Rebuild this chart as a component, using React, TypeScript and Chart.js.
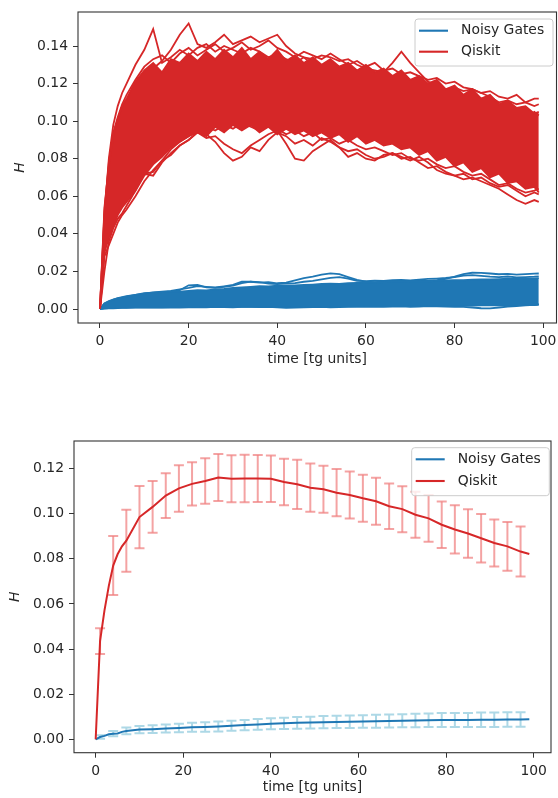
import React, { useEffect, useRef } from "react";
import { Chart, registerables } from "chart.js";

Chart.register(...registerables);

const FONT = "'DejaVu Sans', sans-serif";
const FS = 13.9;
const TXT = "#262626";
const RED = "#d62728";
const BLUE = "#1f77b4";
const RED_ERR = "rgba(240,128,128,0.72)";
const BLUE_ERR = "#add8e6";

Chart.defaults.font.family = FONT;
Chart.defaults.color = TXT;

// ---------- shared labels / ticks ----------
const legendLabels = ["Noisy Gates", "Qiskit"];
const xTickValues = [0, 20, 40, 60, 80, 100];
const yTicksTop = [0, 0.02, 0.04, 0.06, 0.08, 0.1, 0.12, 0.14];
const yTicksBottom = [0, 0.02, 0.04, 0.06, 0.08, 0.1, 0.12];
const xTitle = "time [tg units]";
const yTitle = "H";

// ---------- top chart: individual trajectories ----------
const traceT = [0, 1, 2, 3, 4, 5, 6, 8, 10, 12, 14, 16, 18, 20, 22, 24, 26, 28, 30, 32, 34, 36, 38, 40, 42, 44, 46, 48, 50, 52, 54, 56, 58, 60, 62, 64, 66, 68, 70, 72, 74, 76, 78, 80, 82, 84, 86, 88, 90, 92, 94, 96, 98, 99];

// dense body of the Qiskit runs (upper / lower edge)
const qiskitBodyHi = [0, 0.054, 0.076, 0.092, 0.101, 0.108, 0.112, 0.121, 0.127, 0.131, 0.126, 0.133, 0.131, 0.136, 0.132, 0.137, 0.133, 0.138, 0.134, 0.139, 0.133, 0.137, 0.133, 0.138, 0.132, 0.135, 0.131, 0.134, 0.130, 0.133, 0.129, 0.131, 0.127, 0.130, 0.126, 0.128, 0.124, 0.127, 0.122, 0.124, 0.120, 0.122, 0.117, 0.119, 0.114, 0.117, 0.112, 0.114, 0.109, 0.111, 0.107, 0.108, 0.104, 0.105];
const qiskitBodyLo = [0, 0.030, 0.038, 0.044, 0.050, 0.054, 0.057, 0.063, 0.071, 0.077, 0.081, 0.086, 0.089, 0.092, 0.094, 0.092, 0.097, 0.094, 0.098, 0.095, 0.098, 0.094, 0.097, 0.093, 0.096, 0.093, 0.095, 0.092, 0.094, 0.091, 0.093, 0.089, 0.092, 0.088, 0.090, 0.087, 0.088, 0.085, 0.086, 0.082, 0.084, 0.079, 0.081, 0.076, 0.078, 0.073, 0.075, 0.070, 0.072, 0.067, 0.068, 0.064, 0.065, 0.062];
// outlying Qiskit runs
const qiskitRunA = [0, 0.050, 0.080, 0.098, 0.108, 0.115, 0.120, 0.130, 0.138, 0.149, 0.131, 0.134, 0.138, 0.135, 0.139, 0.141, 0.137, 0.140, 0.138, 0.136, 0.139, 0.137, 0.134, 0.136, 0.133, 0.131, 0.134, 0.130, 0.128, 0.131, 0.127, 0.125, 0.127, 0.124, 0.121, 0.123, 0.120, 0.118, 0.121, 0.117, 0.115, 0.117, 0.113, 0.114, 0.111, 0.109, 0.112, 0.108, 0.106, 0.108, 0.104, 0.102, 0.105, 0.103];
const qiskitRunB = [0, 0.048, 0.072, 0.088, 0.097, 0.104, 0.109, 0.117, 0.124, 0.128, 0.132, 0.138, 0.146, 0.152, 0.141, 0.139, 0.142, 0.146, 0.141, 0.143, 0.145, 0.142, 0.144, 0.146, 0.140, 0.136, 0.134, 0.133, 0.135, 0.134, 0.132, 0.133, 0.130, 0.128, 0.127, 0.126, 0.131, 0.137, 0.131, 0.126, 0.121, 0.119, 0.117, 0.118, 0.116, 0.117, 0.115, 0.113, 0.110, 0.111, 0.109, 0.110, 0.112, 0.112];
const qiskitRunC = [0, 0.028, 0.034, 0.040, 0.046, 0.050, 0.053, 0.060, 0.068, 0.074, 0.079, 0.085, 0.089, 0.092, 0.095, 0.093, 0.089, 0.083, 0.079, 0.081, 0.086, 0.084, 0.090, 0.094, 0.092, 0.088, 0.090, 0.087, 0.091, 0.089, 0.086, 0.084, 0.085, 0.082, 0.080, 0.081, 0.083, 0.080, 0.081, 0.078, 0.075, 0.076, 0.073, 0.071, 0.072, 0.069, 0.070, 0.067, 0.065, 0.066, 0.063, 0.060, 0.062, 0.061];
const qiskitRunD = [0, 0.032, 0.040, 0.047, 0.052, 0.056, 0.060, 0.066, 0.072, 0.071, 0.078, 0.083, 0.087, 0.090, 0.094, 0.091, 0.092, 0.088, 0.085, 0.083, 0.087, 0.090, 0.093, 0.095, 0.088, 0.080, 0.079, 0.084, 0.087, 0.090, 0.086, 0.081, 0.083, 0.080, 0.079, 0.082, 0.083, 0.081, 0.079, 0.081, 0.078, 0.074, 0.072, 0.071, 0.069, 0.070, 0.068, 0.066, 0.064, 0.061, 0.058, 0.056, 0.058, 0.057];
const qiskitRunE = [0, 0.052, 0.078, 0.094, 0.102, 0.109, 0.114, 0.122, 0.129, 0.133, 0.135, 0.131, 0.136, 0.139, 0.135, 0.138, 0.141, 0.137, 0.139, 0.142, 0.138, 0.140, 0.143, 0.139, 0.137, 0.134, 0.137, 0.135, 0.133, 0.136, 0.133, 0.130, 0.132, 0.129, 0.131, 0.127, 0.128, 0.125, 0.126, 0.124, 0.122, 0.123, 0.120, 0.121, 0.118, 0.117, 0.115, 0.116, 0.113, 0.112, 0.114, 0.110, 0.108, 0.109];
const qiskitRunF = [0, 0.020, 0.036, 0.043, 0.048, 0.051, 0.055, 0.063, 0.072, 0.073, 0.079, 0.082, 0.087, 0.090, 0.094, 0.097, 0.095, 0.098, 0.096, 0.099, 0.097, 0.095, 0.098, 0.096, 0.093, 0.095, 0.092, 0.094, 0.090, 0.091, 0.088, 0.090, 0.087, 0.085, 0.086, 0.084, 0.082, 0.083, 0.080, 0.079, 0.080, 0.077, 0.075, 0.076, 0.073, 0.071, 0.072, 0.069, 0.066, 0.067, 0.064, 0.062, 0.063, 0.064];

// dense body of the Noisy Gates runs
const noisyBodyHi = [0, 0.0030, 0.0042, 0.0050, 0.0056, 0.0061, 0.0066, 0.0075, 0.0084, 0.0087, 0.0090, 0.0093, 0.0092, 0.0097, 0.0101, 0.0099, 0.0104, 0.0107, 0.0112, 0.0115, 0.0118, 0.0121, 0.0120, 0.0124, 0.0126, 0.0125, 0.0128, 0.0130, 0.0133, 0.0135, 0.0134, 0.0137, 0.0139, 0.0141, 0.0140, 0.0143, 0.0145, 0.0144, 0.0147, 0.0148, 0.0147, 0.0150, 0.0152, 0.0154, 0.0153, 0.0156, 0.0158, 0.0157, 0.0159, 0.0161, 0.0160, 0.0162, 0.0163, 0.0164];
const noisyBodyLo = [0, 0.0003, 0.0005, 0.0006, 0.0007, 0.0008, 0.0008, 0.0009, 0.0009, 0.0010, 0.0009, 0.0010, 0.0011, 0.0010, 0.0011, 0.0012, 0.0011, 0.0012, 0.0011, 0.0012, 0.0013, 0.0012, 0.0013, 0.0012, 0.0013, 0.0014, 0.0013, 0.0014, 0.0013, 0.0014, 0.0015, 0.0014, 0.0015, 0.0016, 0.0015, 0.0016, 0.0015, 0.0016, 0.0017, 0.0016, 0.0017, 0.0018, 0.0017, 0.0018, 0.0019, 0.0018, 0.0019, 0.0020, 0.0019, 0.0020, 0.0021, 0.0022, 0.0021, 0.0022];
const noisyRunA = [0, 0.003, 0.004, 0.005, 0.0058, 0.0063, 0.0068, 0.0075, 0.0082, 0.0088, 0.0092, 0.0096, 0.0105, 0.0112, 0.0122, 0.0118, 0.0115, 0.0121, 0.0128, 0.0146, 0.0145, 0.0140, 0.0143, 0.0137, 0.0140, 0.0152, 0.0165, 0.0172, 0.0183, 0.0190, 0.0186, 0.0170, 0.0155, 0.0146, 0.0143, 0.0146, 0.0148, 0.0146, 0.0149, 0.0151, 0.0150, 0.0153, 0.0160, 0.0172, 0.0186, 0.0193, 0.0192, 0.0189, 0.0185, 0.0187, 0.0183, 0.0186, 0.0188, 0.0189];
const noisyRunB = [0, 0.0025, 0.0038, 0.0045, 0.0052, 0.0058, 0.0063, 0.0070, 0.0078, 0.0083, 0.0087, 0.0092, 0.0100, 0.0126, 0.0128, 0.0115, 0.0112, 0.0118, 0.0125, 0.0138, 0.0146, 0.0143, 0.0135, 0.0132, 0.0136, 0.0138, 0.0145, 0.0150, 0.0158, 0.0166, 0.0170, 0.0162, 0.0150, 0.0148, 0.0151, 0.0150, 0.0153, 0.0155, 0.0152, 0.0156, 0.0160, 0.0162, 0.0165, 0.0170, 0.0178, 0.0180, 0.0176, 0.0172, 0.0170, 0.0173, 0.0168, 0.0170, 0.0172, 0.0174];
const noisyRunC = [0, 0.0002, 0.0003, 0.0004, 0.0005, 0.0006, 0.0006, 0.0007, 0.0008, 0.0007, 0.0008, 0.0009, 0.0008, 0.0009, 0.0010, 0.0009, 0.0011, 0.0010, 0.0009, 0.0011, 0.0012, 0.0010, 0.0011, 0.0009, 0.0006, 0.0007, 0.0009, 0.0010, 0.0011, 0.0009, 0.0010, 0.0012, 0.0011, 0.0013, 0.0012, 0.0011, 0.0013, 0.0014, 0.0012, 0.0013, 0.0015, 0.0014, 0.0013, 0.0012, 0.0011, 0.0008, 0.0004, 0.0003, 0.0008, 0.0013, 0.0016, 0.0019, 0.0022, 0.0026];

// ---------- bottom chart: mean and standard deviation ----------
const meanT = [0, 1, 2, 3, 4, 5, 6, 7, 10, 13, 16, 19, 22, 25, 28, 31, 34, 37, 40, 43, 46, 49, 52, 55, 58, 61, 64, 67, 70, 73, 76, 79, 82, 85, 88, 91, 94, 97, 99];
const qiskitMean = [0, 0.0435, 0.057, 0.068, 0.077, 0.082, 0.0855, 0.088, 0.0985, 0.103, 0.108, 0.1112, 0.1132, 0.1145, 0.116, 0.1155, 0.1156, 0.1156, 0.1155, 0.114, 0.113, 0.1115, 0.1108, 0.1093, 0.1083, 0.1068, 0.1055, 0.1033, 0.102, 0.0995, 0.0979, 0.0951, 0.093, 0.0912, 0.0891, 0.087, 0.0855, 0.0832, 0.0821];
const noisyMean = [0, 0.001, 0.0015, 0.0022, 0.0025, 0.0026, 0.0033, 0.0037, 0.0043, 0.0045, 0.0048, 0.005, 0.0053, 0.0055, 0.0057, 0.006, 0.0063, 0.0066, 0.0069, 0.0071, 0.0073, 0.0074, 0.0076, 0.0077, 0.0078, 0.0079, 0.008, 0.0081, 0.0082, 0.0083, 0.0084, 0.0085, 0.0086, 0.0086, 0.0087, 0.0087, 0.0088, 0.0088, 0.0089];
const errT = [1, 4, 7, 10, 13, 16, 19, 22, 25, 28, 31, 34, 37, 40, 43, 46, 49, 52, 55, 58, 61, 64, 67, 70, 73, 76, 79, 82, 85, 88, 91, 94, 97];
const qiskitStd = [0.0057, 0.0131, 0.0137, 0.0138, 0.0115, 0.0099, 0.0103, 0.0096, 0.0101, 0.0104, 0.0104, 0.0105, 0.0104, 0.0103, 0.0103, 0.0109, 0.0107, 0.0104, 0.0105, 0.0104, 0.0104, 0.0104, 0.0101, 0.0102, 0.0102, 0.0104, 0.0103, 0.0107, 0.0107, 0.0108, 0.0104, 0.0108, 0.0111];
const noisyStd = [0.0008, 0.0012, 0.0015, 0.0016, 0.0017, 0.0018, 0.0019, 0.002, 0.0021, 0.0022, 0.0022, 0.0023, 0.0024, 0.0024, 0.0025, 0.0026, 0.0026, 0.0027, 0.0027, 0.0028, 0.0028, 0.0029, 0.0029, 0.0029, 0.003, 0.003, 0.0031, 0.0031, 0.0031, 0.0032, 0.0032, 0.0032, 0.0032];

// ---------- helpers ----------
const pts = (xs: number[], ys: number[]) => xs.map((x, i) => ({ x, y: ys[i] }));

const errPts = (ts: number[], mt: number[], mean: number[], sd: number[]) => {
  const out: { x: number; y: number | null }[] = [];
  ts.forEach((t, i) => {
    const m = mean[mt.indexOf(t)];
    out.push({ x: t, y: m - sd[i] }, { x: t, y: m + sd[i] }, { x: t, y: null });
  });
  return out;
};

const framePlugin = {
  id: "mplFrame",
  afterDatasetsDraw(chart: any) {
    const { ctx, chartArea: a } = chart;
    ctx.save();
    ctx.strokeStyle = "#333333";
    ctx.lineWidth = 1.1;
    ctx.strokeRect(a.left, a.top, a.right - a.left, a.bottom - a.top);
    ctx.restore();
  },
};

const legendPlugin = {
  id: "mplLegend",
  afterDraw(chart: any, _args: any, o: any) {
    const { ctx } = chart;
    const { left, top, width, height } = o;
    ctx.save();
    const r = 3;
    ctx.beginPath();
    ctx.moveTo(left + r, top);
    ctx.lineTo(left + width - r, top);
    ctx.quadraticCurveTo(left + width, top, left + width, top + r);
    ctx.lineTo(left + width, top + height - r);
    ctx.quadraticCurveTo(left + width, top + height, left + width - r, top + height);
    ctx.lineTo(left + r, top + height);
    ctx.quadraticCurveTo(left, top + height, left, top + height - r);
    ctx.lineTo(left, top + r);
    ctx.quadraticCurveTo(left, top, left + r, top);
    ctx.closePath();
    ctx.fillStyle = "rgba(255,255,255,0.8)";
    ctx.fill();
    ctx.strokeStyle = "#cccccc";
    ctx.lineWidth = 1;
    ctx.stroke();
    const colors = [BLUE, RED];
    const rows = [o.row1, o.row2];
    legendLabels.forEach((lab, i) => {
      const y = top + rows[i];
      ctx.strokeStyle = colors[i];
      ctx.lineWidth = 2.1;
      ctx.beginPath();
      ctx.moveTo(left + 4, y);
      ctx.lineTo(left + 33, y);
      ctx.stroke();
      ctx.fillStyle = TXT;
      ctx.font = `${FS}px ${FONT}`;
      ctx.textBaseline = "middle";
      ctx.textAlign = "left";
      ctx.fillText(lab, left + 46, y);
    });
    ctx.restore();
  },
};

const makeScales = (
  xmin: number,
  xmax: number,
  ymin: number,
  ymax: number,
  yTicks: number[],
  xAxisH: number,
  yAxisW: number,
  xTitlePadBottom: number,
  yTitlePadTop: number
) => ({
  x: {
    type: "linear",
    min: xmin,
    max: xmax,
    afterBuildTicks: (s: any) => {
      s.ticks = xTickValues.map((v) => ({ value: v }));
    },
    afterFit: (s: any) => {
      s.height = xAxisH;
      s.paddingLeft = 0;
      s.paddingRight = 0;
    },
    grid: { display: true, drawOnChartArea: false, drawTicks: true, tickLength: 5, color: "#333333", lineWidth: 1 },
    border: { display: false },
    ticks: { padding: 5, color: TXT, font: { family: FONT, size: FS }, maxRotation: 0, autoSkip: false, callback: (v: any) => String(v) },
    title: { display: true, text: xTitle, color: TXT, font: { family: FONT, size: FS }, padding: { top: 0, bottom: xTitlePadBottom } },
  },
  y: {
    type: "linear",
    min: ymin,
    max: ymax,
    afterBuildTicks: (s: any) => {
      s.ticks = yTicks.map((v) => ({ value: v }));
    },
    afterFit: (s: any) => {
      s.width = yAxisW;
      s.paddingTop = 0;
      s.paddingBottom = 0;
    },
    grid: { display: true, drawOnChartArea: false, drawTicks: true, tickLength: 5, color: "#333333", lineWidth: 1 },
    border: { display: false },
    ticks: { padding: 5, color: TXT, font: { family: FONT, size: FS }, autoSkip: false, callback: (v: any) => Number(v).toFixed(2) },
    title: { display: true, text: yTitle, color: TXT, font: { family: FONT, size: FS, style: "italic" }, padding: { top: yTitlePadTop, bottom: 0 } },
  },
});

const runLine = (data: number[], color: string, extra: any = {}) => ({
  data: pts(traceT, data),
  borderColor: color,
  backgroundColor: color,
  borderWidth: 1.8,
  pointRadius: 0,
  fill: false,
  ...extra,
});

const topConfig = (): any => ({
  type: "line",
  data: {
    datasets: [
      runLine(qiskitBodyHi, RED, { fill: "+1" }),
      runLine(qiskitBodyLo, RED),
      runLine(qiskitRunA, RED),
      runLine(qiskitRunB, RED),
      runLine(qiskitRunC, RED),
      runLine(qiskitRunD, RED),
      runLine(qiskitRunE, RED),
      runLine(qiskitRunF, RED),
      runLine(noisyBodyHi, BLUE, { fill: "+1" }),
      runLine(noisyBodyLo, BLUE),
      runLine(noisyRunA, BLUE),
      runLine(noisyRunB, BLUE),
      runLine(noisyRunC, BLUE),
    ],
  },
  options: {
    animation: false,
    responsive: false,
    devicePixelRatio: 1,
    layout: { padding: { left: 0, top: 12, right: 1.5, bottom: 0 } },
    elements: { line: { tension: 0 }, point: { radius: 0 } },
    plugins: {
      legend: { display: false },
      tooltip: { enabled: false },
      mplLegend: { left: 415, top: 19, width: 138, height: 47, row1: 11.7, row2: 32.7 },
    },
    scales: makeScales(-4.96, 103.0, -0.00745, 0.1581, yTicksTop, 57, 78, 12.7, 11.7),
  },
  plugins: [framePlugin, legendPlugin],
});

const bottomConfig = (): any => ({
  type: "line",
  data: {
    datasets: [
      { data: pts(meanT, qiskitMean), borderColor: RED, backgroundColor: RED, borderWidth: 2, pointRadius: 0, fill: false },
      { data: pts(meanT, noisyMean), borderColor: BLUE, backgroundColor: BLUE, borderWidth: 2, pointRadius: 0, fill: false },
      {
        data: errPts(errT, meanT, qiskitMean, qiskitStd),
        borderColor: RED_ERR,
        borderWidth: 2,
        spanGaps: false,
        pointStyle: "line",
        pointRadius: 5,
        pointBorderWidth: 2,
        pointBorderColor: RED_ERR,
        pointBackgroundColor: RED_ERR,
        fill: false,
      },
      {
        data: errPts(errT, meanT, noisyMean, noisyStd),
        borderColor: BLUE_ERR,
        borderWidth: 2,
        spanGaps: false,
        pointStyle: "line",
        pointRadius: 5,
        pointBorderWidth: 2,
        pointBorderColor: BLUE_ERR,
        pointBackgroundColor: BLUE_ERR,
        fill: false,
      },
    ],
  },
  options: {
    animation: false,
    responsive: false,
    devicePixelRatio: 1,
    layout: { padding: { left: 0, top: 61, right: 2, bottom: 0 } },
    elements: { line: { tension: 0 } },
    plugins: {
      legend: { display: false },
      tooltip: { enabled: false },
      mplLegend: { left: 411.7, top: 67.7, width: 137.6, height: 48, row1: 11.6, row2: 33.3 },
    },
    scales: makeScales(-4.95, 103.95, -0.00594, 0.1322, yTicksBottom, 45.3, 74, 2.66, 6.66),
  },
  plugins: [framePlugin, legendPlugin],
});

export default function App() {
  const topRef = useRef<HTMLCanvasElement>(null);
  const botRef = useRef<HTMLCanvasElement>(null);
  useEffect(() => {
    const c1 = new Chart(topRef.current as HTMLCanvasElement, topConfig());
    const c2 = new Chart(botRef.current as HTMLCanvasElement, bottomConfig());
    return () => {
      c1.destroy();
      c2.destroy();
    };
  }, []);
  return (
    <div style={{ position: "absolute", left: 0, top: 0, width: 558, height: 798, background: "#ffffff" }}>
      <canvas ref={topRef} width={558} height={380} style={{ position: "absolute", left: 0, top: 0, width: 558, height: 380 }} />
      <canvas ref={botRef} width={558} height={418} style={{ position: "absolute", left: 0, top: 380, width: 558, height: 418 }} />
    </div>
  );
}
